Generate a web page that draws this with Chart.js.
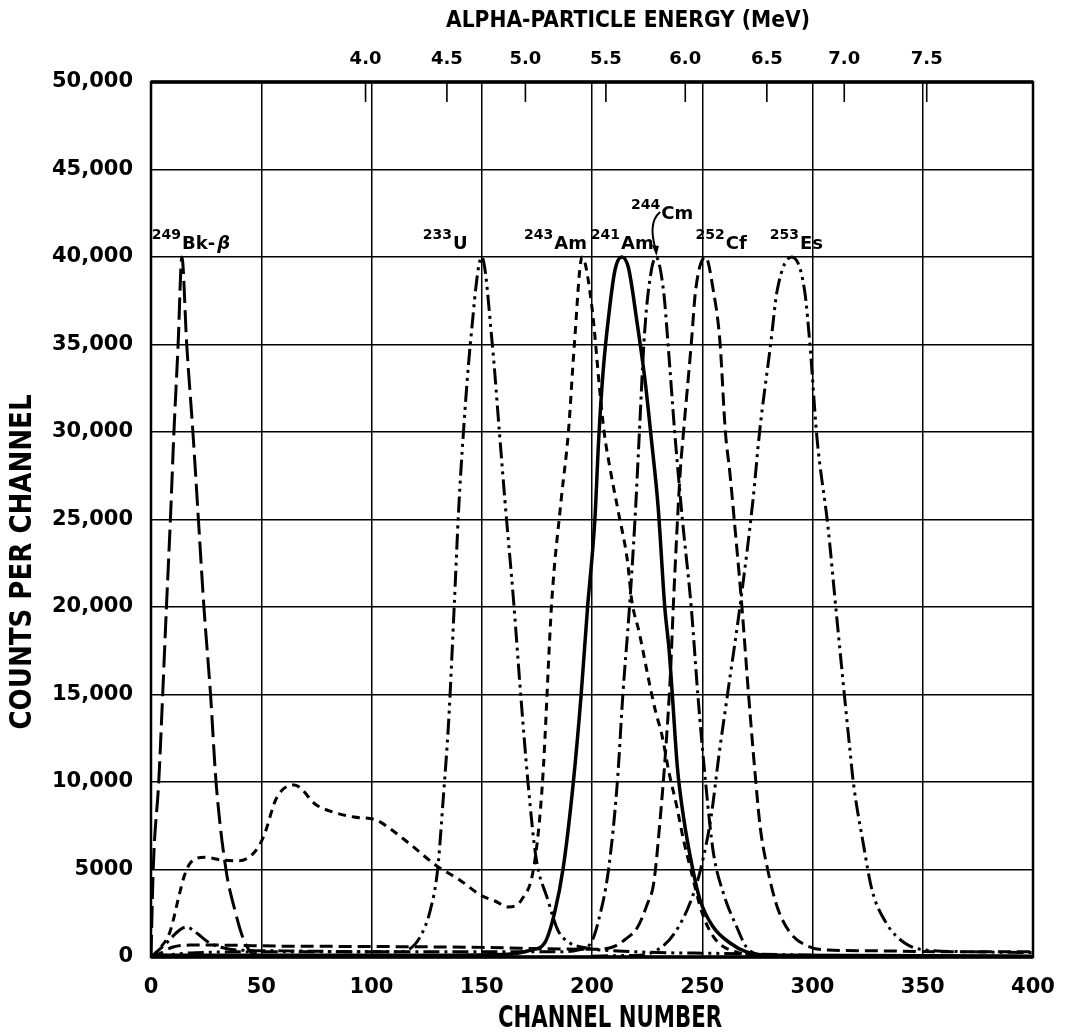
<!DOCTYPE html>
<html>
<head>
<meta charset="utf-8">
<script src="https://cdn.jsdelivr.net/npm/chart.js@4.4.1/dist/chart.umd.min.js"></script>
<style>
  html, body { margin: 0; padding: 0; background: #fff; }
  canvas { display: block; }
</style>
</head>
<body>
<canvas id="spectrum" width="1065" height="1035"></canvas>
<script>
// top axis: alpha energy labels and the channel where each one sits
const energyLabels = ["4.0", "4.5", "5.0", "5.5", "6.0", "6.5", "7.0", "7.5"];
const energyChannels = [97.3, 134.2, 169.8, 206.3, 242.3, 279.3, 314.4, 351.8];

// 249Bk beta
const bkCh = [0, 1, 3.5, 5.3, 7, 8.8, 10.4, 12.3, 14, 16.2, 19, 21.5, 24, 27, 29.5, 34, 38, 42, 46, 50, 120];
const bkCounts = [0, 5000, 10000, 15000, 20000, 25000, 30000, 35000, 40000, 35000, 30000, 25000, 20000, 15000, 10000, 5000, 2700, 1000, 200, 80, 80];

// 233U
const uCh = [0, 20, 60, 100, 112, 116.5, 122, 126.7, 130, 132.5, 135, 137.5, 139.5, 141.7, 144.8, 150, 154.8, 158, 160.5, 164.4, 167.6, 171, 174.6, 180, 184.5, 190, 195, 220, 260, 300];
const uCounts = [0, 250, 300, 300, 300, 400, 1140, 2690, 5000, 9000, 13500, 20000, 25500, 30000, 35000, 40000, 35000, 30000, 26100, 20400, 15100, 9940, 5700, 3260, 1540, 800, 570, 300, 200, 100];

// 243Am (with the broad low-channel hump)
const am243Ch = [0.5, 4, 8.5, 13, 15, 18, 24.5, 32, 40, 47, 51, 57, 65, 75, 84, 92, 102, 108, 119, 129, 140, 150, 156, 162, 168, 173.7, 177.5, 181.8, 186, 189.3, 192, 195.5, 200, 203.5, 205.5, 208.5, 212, 216, 218, 221.5, 226, 229, 231.5, 235, 238.5, 241.5, 244.5, 250, 256, 265, 275, 300];
const am243Counts = [0, 500, 1400, 3650, 4600, 5400, 5700, 5540, 5500, 6000, 6860, 9100, 9830, 8690, 8230, 8000, 7830, 7370, 6290, 5260, 4400, 3500, 3200, 2860, 3260, 5200, 9900, 20400, 26100, 30000, 35000, 40000, 37100, 32400, 30000, 27700, 25400, 22700, 20400, 18500, 15660, 13940, 12800, 10500, 8570, 6690, 5140, 2500, 1000, 300, 100, 50];

// 241Am
const am241Ch = [0, 100, 160, 172.5, 178.5, 183, 187, 191.5, 195, 198, 201.3, 203, 205, 208, 210.5, 213.5, 216.5, 220.5, 224, 227, 230, 233, 235, 236.5, 238.7, 241.5, 245.5, 249, 255, 262.6, 270, 280, 400];
const am241Counts = [100, 100, 150, 400, 800, 2510, 5140, 9940, 14860, 20000, 25000, 29500, 33400, 37100, 39300, 40000, 39400, 36200, 33000, 29500, 25700, 20000, 17500, 14860, 10860, 8000, 5140, 3260, 1710, 800, 290, 100, 50];

// 244Cm
const cmCh = [0, 7, 13, 16, 20.7, 26.6, 33, 39, 60, 100, 150, 185, 193.6, 199.5, 203, 207.5, 211.5, 214, 217, 219.5, 221.5, 223.5, 225.5, 229, 232.5, 234.5, 237.5, 241, 245, 248, 251.5, 255, 259.7, 265.7, 270, 278, 300];
const cmCounts = [0, 800, 1540, 1710, 1370, 800, 510, 400, 350, 300, 300, 300, 400, 800, 2100, 5000, 10000, 15000, 20000, 25000, 30000, 35000, 38000, 40000, 38000, 35000, 30000, 25000, 20000, 15000, 10000, 6000, 3600, 1700, 570, 100, 50];

// 252Cf
const cfCh = [0, 4, 10, 17.5, 28.5, 60, 100, 150, 193, 203, 210, 215, 220.7, 225, 228, 231, 233.4, 235.5, 237, 240, 241.5, 245, 247, 251.5, 255, 258, 260.5, 262.5, 264.5, 268, 271, 274.3, 276.3, 279.5, 284, 290, 299, 307, 330, 360, 400];
const cfCounts = [0, 200, 570, 680, 680, 620, 600, 550, 450, 450, 600, 1000, 1710, 3000, 4230, 8000, 11800, 16000, 20400, 27700, 30000, 35000, 38100, 40000, 38100, 35200, 30000, 27700, 25000, 20000, 15000, 10000, 7400, 5100, 2860, 1370, 570, 400, 350, 300, 300];

// 253Es
const esCh = [200, 215, 222.8, 231.6, 237.5, 245, 249.5, 254, 257.7, 261.3, 267.5, 273, 276, 281, 284, 290.6, 296.4, 299, 302, 307, 311, 317, 318.6, 323, 327, 333.5, 342, 351, 370, 400];
const esCounts = [50, 80, 110, 570, 1370, 3260, 5140, 8000, 11660, 14860, 20400, 26100, 30000, 35000, 38100, 40000, 38100, 34740, 29700, 24600, 19400, 11800, 9900, 6500, 3830, 1930, 780, 400, 300, 250];

// peak annotations
const peakMass = ["249", "233", "243", "241", "244", "252", "253"];
const peakName = ["Bk-\u03B2", "U", "Am", "Am", "Cm", "Cf", "Es"];
const peakChannel = [14, 150, 195.5, 213.5, 229, 251.5, 290.6];

const FONT = "DejaVu Sans";
const TITLE_FONT = "'DejaVu Sans Condensed', 'DejaVu Sans'";

function pts(xs, ys) {
  return xs.map((x, i) => ({ x: x, y: ys[i] }));
}

function line(label, xs, ys, dash, width) {
  return {
    label: label,
    data: pts(xs, ys),
    borderColor: "#000",
    borderWidth: width || 3,
    borderDash: dash,
    pointRadius: 0,
    fill: false,
    cubicInterpolationMode: "monotone",
  };
}

// squeeze a bold title into a given width, like the condensed lettering of the original
function fittedText(ctx, text, cx, cy, width, size, vertical) {
  ctx.save();
  ctx.translate(cx, cy);
  if (vertical) ctx.rotate(-Math.PI / 2);
  ctx.font = "bold " + size + "px " + TITLE_FONT;
  const w = ctx.measureText(text).width;
  ctx.scale(width / w, 1);
  ctx.textAlign = "center";
  ctx.textBaseline = "middle";
  ctx.fillStyle = "#000";
  ctx.fillText(text, 0, 0);
  ctx.restore();
}

// keep the frame where the original has it, whatever the edge labels need
function noSidePadding(s, h) {
  s.height = h;
  s.paddingLeft = 0;
  s.paddingRight = 0;
}

const peakLabels = {
  id: "peakLabels",
  afterDatasetsDraw(chart) {
    const ctx = chart.ctx;
    const xs = chart.scales.x, ys = chart.scales.y;
    const dx = [-30, -59, -58, -31, -25, -10, -22];
    const lift = [0, 0, 0, 0, 30, 0, 0];
    const top = ys.getPixelForValue(40000);
    ctx.save();
    ctx.fillStyle = "#000";
    ctx.textBaseline = "alphabetic";
    peakMass.forEach((m, i) => {
      const px = xs.getPixelForValue(peakChannel[i]);
      const x = px + dx[i];
      const base = top - 8 - lift[i];
      ctx.font = "bold 14px " + FONT;
      ctx.fillText(m, x, base - 10);
      const w = ctx.measureText(m).width;
      const name = peakName[i];
      let nx = x + w + 1;
      if (name.indexOf("\u03B2") >= 0) {
        ctx.font = "bold 18px " + FONT;
        const head = name.slice(0, -1);
        ctx.fillText(head, nx, base);
        const hw = ctx.measureText(head).width;
        ctx.font = "italic bold 18px " + FONT;
        ctx.fillText("\u03B2", nx + hw + 2, base);
      } else {
        ctx.font = "bold 18px " + FONT;
        ctx.fillText(name, nx, base);
      }
      if (lift[i] > 0) {
        // curved pointer down to the peak
        ctx.beginPath();
        ctx.lineWidth = 2;
        ctx.strokeStyle = "#000";
        ctx.moveTo(nx - 1, base - 7);
        ctx.bezierCurveTo(nx - 12, base + 2, nx - 9, base + 18, px, top - 6);
        ctx.stroke();
        ctx.beginPath();
        ctx.moveTo(px - 4, top - 12);
        ctx.lineTo(px + 3, top - 11);
        ctx.lineTo(px + 0.5, top - 1);
        ctx.closePath();
        ctx.fill();
      }
    });
    ctx.restore();
  },
  afterDraw(chart) {
    const ctx = chart.ctx;
    const a = chart.chartArea;
    const s = chart.scales.x2;
    ctx.save();
    ctx.strokeStyle = "#000";
    // energy tick marks hang inside the frame
    ctx.lineWidth = 1.6;
    ctx.beginPath();
    energyChannels.forEach((v) => {
      const px = s.getPixelForValue(v);
      ctx.moveTo(px, a.top);
      ctx.lineTo(px, a.top + 20);
    });
    ctx.stroke();
    ctx.lineWidth = 2.5;
    ctx.strokeRect(a.left, a.top, a.right - a.left, a.bottom - a.top);
    ctx.lineWidth = 3.5;
    ctx.beginPath();
    ctx.moveTo(a.left, a.bottom);
    ctx.lineTo(a.right, a.bottom);
    ctx.moveTo(a.left, a.top);
    ctx.lineTo(a.right, a.top);
    ctx.stroke();
    ctx.restore();

    fittedText(ctx, "ALPHA-PARTICLE ENERGY (MeV)", 628, 21, 364, 23, false);
    fittedText(ctx, "CHANNEL NUMBER", 610, 1019, 224, 31, false);
    fittedText(ctx, "COUNTS PER CHANNEL", 23, 562, 335, 31, true);
  },
};

new Chart(document.getElementById("spectrum"), {
  type: "line",
  data: {
    datasets: [
      line("249Bk-beta", bkCh, bkCounts, [22, 7]),
      line("233U", uCh, uCounts, [16, 5, 3, 5, 3, 5]),
      line("243Am", am243Ch, am243Counts, [8, 6]),
      line("241Am", am241Ch, am241Counts, [], 3.5),
      line("244Cm", cmCh, cmCounts, [16, 5, 3, 5]),
      line("252Cf", cfCh, cfCounts, [13, 6]),
      line("253Es", esCh, esCounts, [16, 5, 3, 5, 3, 5]),
    ],
  },
  options: {
    responsive: false,
    animation: false,
    devicePixelRatio: 1,
    layout: { padding: { left: 0, right: 32, top: 0, bottom: 0 } },
    plugins: { legend: { display: false }, tooltip: { enabled: false } },
    scales: {
      x: {
        type: "linear",
        position: "bottom",
        min: 0,
        max: 400,
        afterFit: (s) => noSidePadding(s, 78),
        ticks: { stepSize: 50, color: "#000", padding: 18, maxRotation: 0, font: { family: FONT, size: 21, weight: "bold" } },
        grid: { color: "#000", lineWidth: 1.5, drawTicks: false },
        border: { display: false },
      },
      x2: {
        type: "linear",
        position: "top",
        min: 0,
        max: 400,
        afterFit: (s) => noSidePadding(s, 82),
        afterBuildTicks: (s) => { s.ticks = energyChannels.map((v) => ({ value: v })); },
        ticks: {
          autoSkip: false,
          maxRotation: 0,
          color: "#000",
          padding: 12,
          font: { family: FONT, size: 18, weight: "bold" },
          callback: (v, i) => energyLabels[i],
        },
        grid: { display: false, drawTicks: false },
        border: { display: false },
      },
      y: {
        min: 0,
        max: 50000,
        afterFit: (s) => { s.width = 151; },
        ticks: {
          stepSize: 5000,
          color: "#000",
          padding: 18,
          font: { family: FONT, size: 21, weight: "bold" },
          callback: (v) => (v === 0 ? "0" : v < 10000 ? String(v) : v.toLocaleString("en-US")),
        },
        grid: { color: "#000", lineWidth: 1.5, drawTicks: false },
        border: { display: false },
      },
    },
  },
  plugins: [peakLabels],
});
</script>
</body>
</html>
